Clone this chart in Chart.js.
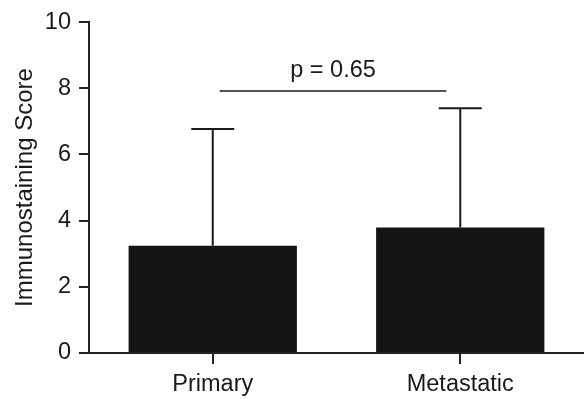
<!DOCTYPE html>
<html>
<head>
<meta charset="utf-8">
<script src="https://cdn.jsdelivr.net/npm/chart.js@4"></script>
<style>
  html, body { margin: 0; padding: 0; background: #fff; }
</style>
</head>
<body>
<canvas id="chart" width="584" height="399"></canvas>
<script>
// data
const categories = ["Primary", "Metastatic"];
const means = [3.24, 3.79];
const sd = [3.53, 3.61];          // upper error bar only
const yTicks = [0, 2, 4, 6, 8, 10];
const pText = "p = 0.65";
const pLineValue = 7.92;          // height of the comparison line (score units)

const FONT = '"Liberation Sans", Arial, Helvetica, sans-serif';
const INK = "#1a1a1a";

// error bars + p-value line, drawn from the scales
const extras = {
    id: "extras",
    afterDatasetsDraw(chart) {
        const { ctx, scales: { x, y } } = chart;
        const meta = chart.getDatasetMeta(0);
        ctx.save();
        ctx.strokeStyle = INK;
        ctx.lineWidth = 2;
        meta.data.forEach((bar, i) => {
            const top = y.getPixelForValue(means[i] + sd[i]);
            ctx.beginPath();
            ctx.moveTo(bar.x, bar.y);
            ctx.lineTo(bar.x, top);
            ctx.moveTo(bar.x - 21.5, top);
            ctx.lineTo(bar.x + 21.5, top);
            ctx.stroke();
        });

        const c0 = x.getPixelForValue(0), c1 = x.getPixelForValue(1);
        const step = c1 - c0;
        const ly = y.getPixelForValue(pLineValue);
        const lx0 = c0 + step * 0.028, lx1 = c1 - step * 0.056;
        ctx.lineWidth = 1.5;
        ctx.beginPath();
        ctx.moveTo(lx0, ly);
        ctx.lineTo(lx1, ly);
        ctx.stroke();

        ctx.fillStyle = INK;
        ctx.font = "23.5px " + FONT;
        ctx.textAlign = "center";
        ctx.textBaseline = "alphabetic";
        ctx.fillText(pText, (lx0 + lx1) / 2, ly - 14);
        ctx.restore();
    }
};

new Chart(document.getElementById("chart"), {
    type: "bar",
    data: {
        labels: categories,
        datasets: [{
            data: means,
            backgroundColor: "#151515",
            borderWidth: 0,
            barPercentage: 0.68,
            categoryPercentage: 1
        }]
    },
    options: {
        responsive: false,
        animation: false,
        devicePixelRatio: 1,
        layout: { padding: { top: 22, right: -4, bottom: 0, left: 0 } },
        plugins: { legend: { display: false }, tooltip: { enabled: false } },
        scales: {
            x: {
                offset: true,
                grid: { offset: false, drawOnChartArea: false, tickLength: 11, color: "#222", lineWidth: 2 },
                border: { color: "#222", width: 2 },
                ticks: { color: INK, font: { size: 23.5, family: FONT }, padding: 6, maxRotation: 0 },
                afterFit(s) { s.height = 46; }
            },
            y: {
                min: 0,
                max: 10,
                afterBuildTicks(s) { s.ticks = yTicks.map(v => ({ value: v })); },
                grid: { drawOnChartArea: false, tickLength: 10, color: "#222", lineWidth: 2 },
                border: { color: "#222", width: 2 },
                ticks: { color: INK, font: { size: 23.5, family: FONT }, padding: 8 },
                title: {
                    display: true,
                    text: "Immunostaining Score",
                    color: INK,
                    font: { size: 24, family: FONT },
                    padding: { top: 11, bottom: 0 }
                },
                afterFit(s) { s.width = 89; }
            }
        }
    },
    plugins: [extras]
});
</script>
</body>
</html>
